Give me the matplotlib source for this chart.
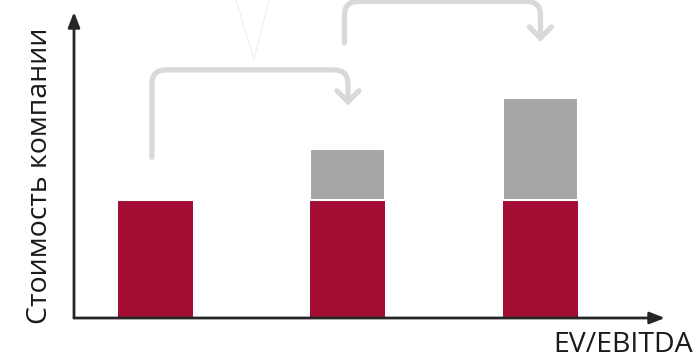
import numpy as np
import matplotlib.pyplot as plt
from matplotlib.path import Path
from matplotlib.patches import PathPatch

# values (arbitrary units)
stages = [0, 1, 2]
base_value = [100, 100, 100]
added_value = [0, 43, 86]
y_label = 'Стоимость компании'
x_label = 'EV/EBITDA'

# connector arrows: (from stage, start y, top y, to stage, tip y)
connectors = [(0, 136, 210, 1, 183),
              (1, 233, 268, 2, 237)]

RED = '#a30d34'
GREY = '#a6a6a6'
LIGHT = '#d9d9d9'
DARK = '#262626'

plt.rcParams['font.family'] = ['Open Sans', 'DejaVu Sans']

fig = plt.figure(figsize=(6.95, 3.63), dpi=100)
ax = fig.add_axes([74 / 695, 45 / 363, 591 / 695, 306 / 363])
ax.set_xlim(-0.423, 2.647)
ax.set_ylim(0, 259)

w = 0.39
ax.bar(stages, base_value, width=w, color=RED, zorder=2)
ax.bar(stages, added_value, width=w, bottom=base_value, color=GREY,
       edgecolor='white', linewidth=1.5, zorder=2)

# px -> data scale
sx = 192.5  # px per x unit
sy = 1.18   # px per y unit
r = 14      # corner radius in px
rx, ry = r / sx, r / sy

for a, y0, ytop, b, ytip in connectors:
    xa = a - 3.5 / sx
    xb = b
    verts = [(xa, y0), (xa, ytop - ry), (xa, ytop), (xa + rx, ytop),
             (xb - rx, ytop), (xb, ytop), (xb, ytop - ry), (xb, ytip)]
    codes = [Path.MOVETO, Path.LINETO, Path.CURVE3, Path.CURVE3,
             Path.LINETO, Path.CURVE3, Path.CURVE3, Path.LINETO]
    ax.add_patch(PathPatch(Path(verts, codes), fill=False, edgecolor=LIGHT,
                           lw=3.8, capstyle='round', joinstyle='round',
                           clip_on=False, zorder=1))
    h = 11
    ax.plot([xb - h / sx, xb, xb + h / sx], [ytip + h / sy, ytip, ytip + h / sy],
            color=LIGHT, lw=3.8, solid_capstyle='round', solid_joinstyle='miter',
            clip_on=False, zorder=1)

# faint V mark at the top
v_x = [(235 - 155.5) / sx, (254 - 155.5) / sx, (270 - 155.5) / sx]
v_y = [272, 219, 272]
ax.plot(v_x, v_y, color='#f2f2f2', lw=1, clip_on=False, zorder=0)

# axes with arrow heads
for s in ax.spines.values():
    s.set_visible(False)
ax.set_xticks([])
ax.set_yticks([])
ax.annotate('', xy=(1, 0), xycoords='axes fraction', xytext=(0, 0),
            arrowprops=dict(arrowstyle='-|>,head_length=0.9,head_width=0.35',
                            color=DARK, lw=2, shrinkA=0, shrinkB=0))
ax.annotate('', xy=(0, 1), xycoords='axes fraction', xytext=(0, 0),
            arrowprops=dict(arrowstyle='-|>,head_length=0.9,head_width=0.35',
                            color=DARK, lw=2, shrinkA=0, shrinkB=0))

fig.text(693 / 695, 1 - 345 / 363, x_label, ha='right', va='center',
         fontsize=20.5, color='#1a1a1a')
fig.text(40 / 695, 1 - 176 / 363, y_label, ha='center', va='center',
         rotation=90, fontsize=20.5, color='#1a1a1a')

fig.savefig('out.png', dpi=100)
